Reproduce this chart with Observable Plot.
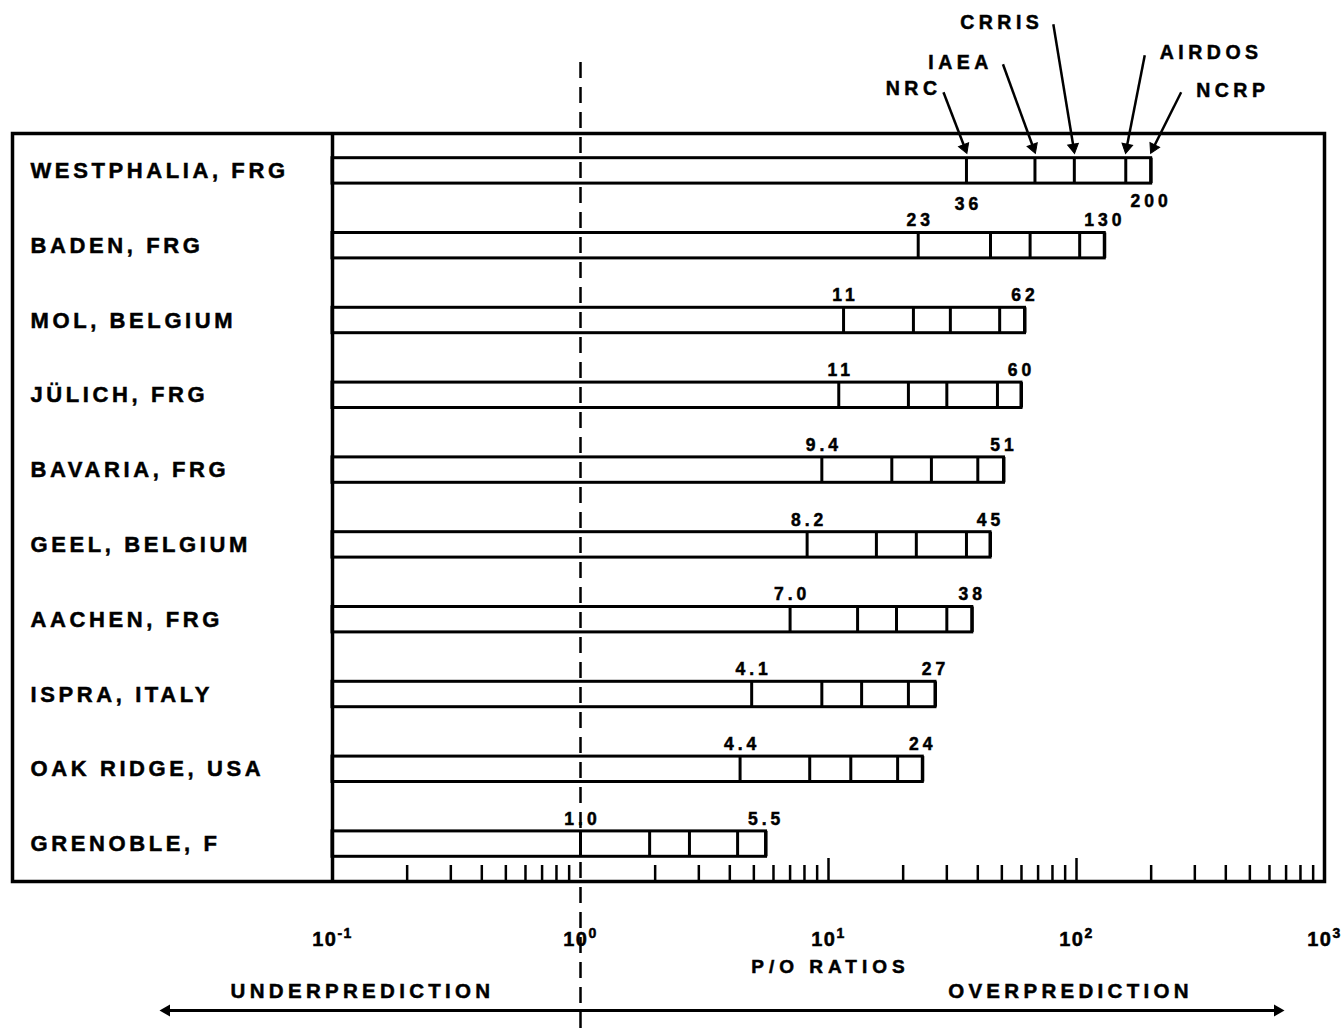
<!DOCTYPE html>
<html><head><meta charset="utf-8">
<script src="https://cdn.jsdelivr.net/npm/d3@7"></script>
<script src="https://cdn.jsdelivr.net/npm/@observablehq/plot@0.6"></script>
<style>
body{margin:0;background:#fff;}
#chart svg{display:block;}
</style></head><body><div id="chart"></div>
<script>
// ---------------- data ----------------
const sites = ["WESTPHALIA, FRG","BADEN, FRG","MOL, BELGIUM","JÜLICH, FRG","BAVARIA, FRG",
               "GEEL, BELGIUM","AACHEN, FRG","ISPRA, ITALY","OAK RIDGE, USA","GRENOBLE, F"];
// P/O ratios of the five models for each site (segment boundaries, ascending)
const ratios = [
  [36, 68, 98, 158, 200],
  [23, 45, 65, 103, 130],
  [11.5, 22, 31, 49, 62],
  [11, 21, 30, 48, 60],
  [9.4, 18, 26, 40, 51],
  [8.2, 15.6, 22.6, 36, 45],
  [7.0, 13.1, 18.8, 30, 38],
  [4.9, 9.4, 13.6, 21, 27],
  [4.4, 8.4, 12.3, 19, 24],
  [1.0, 1.9, 2.75, 4.3, 5.6]
];
const minLabels = ["36","23","11","11","9.4","8.2","7.0","4.1","4.4","1.0"];
const maxLabels = ["200","130","62","60","51","45","38","27","24","5.5"];
const models = ["NRC","IAEA","CRRIS","AIRDOS","NCRP"];
const decadeTicks = [0.1, 1, 10, 100, 1000];
const decadeBase = "10";
const decadeExponents = ["-1","0","1","2","3"];
const axisTitle = "P/O RATIOS";
const leftLabel = "UNDERPREDICTION";
const rightLabel = "OVERPREDICTION";

// ---------------- layout ----------------
const W = 1341, HGT = 1030;
const X1 = 580, DEC = 248;            // pixel of ratio 1 and width of a decade
const TOP = 133, BOT = 881;           // frame top/bottom
const ROWH = (BOT - TOP) / sites.length;
const HB = 12.7 / ROWH;               // half bar height in row units
const px2row = p => p / ROWH;
const pxLog = (v, p) => v * Math.pow(10, p / DEC);

const rows = sites.map((s, i) => ({site: s, i, lo: ratios[i][0], hi: ratios[i][4], minL: minLabels[i], maxL: maxLabels[i]}));
const dividers = sites.flatMap((s, i) => ratios[i].map((v, k) => ({i, v, model: models[k]})));

// leader lines from model names to the first site's segment boundaries (pixel offsets)
const leaderPx = [[-23,-60],[-32,-88],[-21,-128],[19,-97],[30,-60]];
const labelPx  = [[-2,-3],[-10,-1],[-10,-1],[15,-2],[15,-1]];
const tipRow = -HB - px2row(6);
const leaders = models.map((m, k) => {
  const v = ratios[0][k];
  const [dx, dy] = leaderPx[k];
  const len = Math.hypot(dx, dy), ux = -dx / len, uy = -dy / len;
  const tailX = pxLog(v, dx), tailY = tipRow + px2row(dy);
  return {
    model: m, tipX: v, tipY: tipRow, tailX, tailY,
    headX: pxLog(v, -ux * 5), headY: tipRow - px2row(uy * 5),
    angle: Math.atan2(ux, -uy) * 180 / Math.PI,
    lx: pxLog(tailX, labelPx[k][0]), ly: tailY + px2row(labelPx[k][1]),
    left: dx < 0
  };
});

const minor = [-1, 0, 1, 2].flatMap(e => d3.range(2, 10).map(m => m * Math.pow(10, e)));
const major = [10, 100];
const frameH = BOT - TOP;
const arrowRow = sites.length - 0.5 + px2row(129);
const arrowEnds = [{x: pxLog(1, -420 + 6), a: -90}, {x: pxLog(1, 703 - 6), a: 90}];

const bold = {fontWeight: "bold", fill: "black"};

const plot = Plot.plot({
  width: W, height: HGT,
  marginLeft: 12, marginRight: W - (X1 + 3 * DEC), marginTop: TOP, marginBottom: HGT - BOT,
  style: {fontFamily: "'Liberation Sans', Arial, Helvetica, sans-serif", background: "white", color: "black", overflow: "visible"},
  x: {type: "log", domain: [0.1, 1000], range: [X1 - DEC, X1 + 3 * DEC], axis: null},
  y: {type: "linear", domain: [-0.5, sites.length - 0.5], range: [TOP, BOT], axis: null},
  marks: [
    // axis ticks along the bottom edge
    Plot.tickX(minor, {x: d => d, insetTop: frameH - 16, strokeWidth: 2.5}),
    Plot.tickX(major, {x: d => d, insetTop: frameH - 23, strokeWidth: 2.5}),
    // bars and segment boundaries
    Plot.rect(rows, {x1: 0.1, x2: "hi", y1: d => d.i - HB, y2: d => d.i + HB, fill: "none", stroke: "black", strokeWidth: 3}),
    Plot.ruleX(dividers, {x: "v", y1: d => d.i - HB, y2: d => d.i + HB, strokeWidth: 3}),
    // ratio = 1 dashed line
    Plot.ruleX([1], {y1: -0.5 - px2row(71), y2: sites.length - 0.5 + px2row(149), strokeWidth: 2.5, strokeDasharray: "16,9"}),
    // frame and label column separator
    Plot.ruleX([0.1], {strokeWidth: 3.5}),
    Plot.frame({stroke: "black", strokeWidth: 3.5}),
    // site names
    Plot.text(rows, {y: "i", text: "site", frameAnchor: "left", dx: 18, textAnchor: "start", fontSize: 22, ...bold}),
    // min / max labels
    Plot.text(rows.slice(1), {x: "lo", y: "i", text: "minL", dy: -25, dx: 2, fontSize: 17.5, ...bold}),
    Plot.text(rows.slice(1), {x: "hi", y: "i", text: "maxL", dy: -25, dx: 0, fontSize: 17.5, ...bold}),
    Plot.text(rows.slice(0, 1), {x: "lo", y: "i", text: "minL", dy: 33, dx: 2, fontSize: 17.5, ...bold}),
    Plot.text(rows.slice(0, 1), {x: "hi", y: "i", text: "maxL", dy: 30, dx: 0, fontSize: 17.5, ...bold}),
    // model leaders
    Plot.link(leaders, {x1: "tailX", y1: "tailY", x2: "headX", y2: "headY", strokeWidth: 2.5}),
    Plot.dot(leaders, {x: "headX", y: "headY", symbol: "triangle", r: 4, fill: "black", stroke: "black", strokeWidth: 1, rotate: "angle"}),
    Plot.text(leaders.filter(d => d.left), {x: "lx", y: "ly", text: "model", textAnchor: "end", fontSize: 19.5, ...bold}),
    Plot.text(leaders.filter(d => !d.left), {x: "lx", y: "ly", text: "model", textAnchor: "start", fontSize: 19.5, ...bold}),
    // decade labels and axis title
    Plot.text(decadeTicks, {x: d => d, text: (d, i) => decadeBase + "^" + decadeExponents[i], frameAnchor: "bottom", dy: 64, dx: 0, fontSize: 20, ...bold}),
    Plot.text([axisTitle], {x: 10, text: d => d, frameAnchor: "bottom", dy: 91, dx: 2, fontSize: 19, ...bold}),
    // under / over prediction arrow
    Plot.link([0], {x1: arrowEnds[0].x, x2: arrowEnds[1].x, y1: arrowRow, y2: arrowRow, strokeWidth: 3}),
    Plot.dot(arrowEnds, {x: "x", y: arrowRow, symbol: "triangle", r: 4.5, rotate: "a", fill: "black"}),
    Plot.text([leftLabel], {x: 1, text: d => d, frameAnchor: "bottom", dy: 116, dx: -218, fontSize: 20.5, ...bold}),
    Plot.text([rightLabel], {x: 1, text: d => d, frameAnchor: "bottom", dy: 116, dx: 490, fontSize: 20.5, ...bold})
  ]
});

const svg = d3.select(plot);
svg.selectAll('g[font-size="22"]').attr("letter-spacing", "3.6px");
svg.selectAll('g[font-size="17.5"]').attr("letter-spacing", "4px");
svg.selectAll('g[font-size="19.5"]').attr("letter-spacing", "4.5px");
svg.selectAll('g[font-size="19"]').attr("letter-spacing", "5px");
svg.selectAll('g[font-size="20.5"]').attr("letter-spacing", "4.3px");
svg.selectAll('g[font-size="20"]').attr("letter-spacing", "1.5px");
// decade labels: base with raised exponent
svg.selectAll('g[font-size="20"] text').each(function () {
  const t = d3.select(this);
  const [base, exp] = t.text().split("^");
  t.text(null);
  t.append("tspan").text(base);
  t.append("tspan").attr("font-size", 14).attr("dy", "-8").text(exp);
});
// slightly heavier strokes for the printed look
svg.selectAll("text").attr("stroke", "black").attr("stroke-width", 0.5);
document.getElementById("chart").appendChild(plot);
</script>
</body></html>
